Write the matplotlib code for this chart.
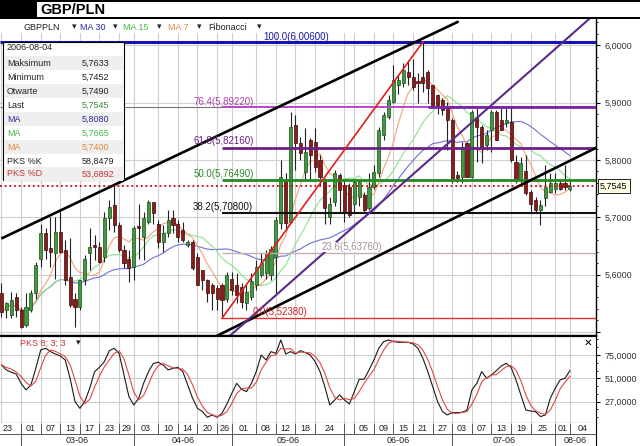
import numpy as np
import pandas as pd
import matplotlib
matplotlib.use("Agg")
import matplotlib.pyplot as plt
from matplotlib.patches import Rectangle

plt.rcParams['font.family'] = ['Liberation Sans', 'DejaVu Sans']

# ---------------- data ----------------
days = pd.bdate_range("2006-02-23", "2006-08-04")

opens = [5.567, 5.538, 5.529, 5.561, 5.538, 5.512, 5.538, 5.567, 5.628, 5.672,
         5.646, 5.637, 5.675, 5.643, 5.596, 5.558, 5.544, 5.590, 5.637, 5.651,
         5.649, 5.631, 5.698, 5.721, 5.686, 5.643, 5.628, 5.614, 5.684, 5.666,
         5.692, 5.727, 5.689, 5.657, 5.672, 5.698, 5.689, 5.678, 5.652, 5.657,
         5.631, 5.608, 5.590, 5.582, 5.576, 5.582, 5.558, 5.593, 5.582, 5.579,
         5.550, 5.561, 5.582, 5.599, 5.602, 5.600, 5.631, 5.690, 5.765, 5.692,
         5.861, 5.829, 5.779, 5.835, 5.832, 5.800, 5.762, 5.701, 5.727, 5.774,
         5.756, 5.753, 5.724, 5.736, 5.739, 5.716, 5.753, 5.777, 5.843, 5.875,
         5.902, 5.931, 5.934, 5.954, 5.945, 5.938, 5.945, 5.954, 5.931, 5.913,
         5.905, 5.890, 5.870, 5.774, 5.771, 5.829, 5.771, 5.873, 5.858, 5.826,
         5.852, 5.884, 5.870, 5.864, 5.867, 5.797, 5.765, 5.780, 5.745, 5.730,
         5.713, 5.733, 5.745, 5.750, 5.759, 5.759, 5.749]
highs = [5.585, 5.553, 5.570, 5.567, 5.544, 5.567, 5.573, 5.622, 5.689, 5.681,
         5.701, 5.701, 5.713, 5.660, 5.663, 5.567, 5.590, 5.634, 5.681, 5.669,
         5.657, 5.710, 5.730, 5.756, 5.692, 5.651, 5.643, 5.684, 5.724, 5.710,
         5.730, 5.727, 5.695, 5.686, 5.713, 5.713, 5.695, 5.692, 5.660, 5.660,
         5.637, 5.608, 5.593, 5.585, 5.582, 5.585, 5.605, 5.605, 5.602, 5.585,
         5.582, 5.602, 5.625, 5.637, 5.643, 5.650, 5.701, 5.800, 5.777, 5.884,
         5.878, 5.841, 5.855, 5.838, 5.855, 5.809, 5.768, 5.736, 5.782, 5.777,
         5.765, 5.759, 5.765, 5.765, 5.745, 5.777, 5.791, 5.858, 5.884, 5.913,
         5.966, 5.950, 5.969, 5.974, 5.977, 5.951, 6.006, 5.957, 5.931, 5.916,
         5.908, 5.902, 5.873, 5.780, 5.832, 5.832, 5.887, 5.890, 5.861, 5.852,
         5.887, 5.887, 5.890, 5.890, 5.890, 5.809, 5.806, 5.809, 5.748, 5.736,
         5.730, 5.791, 5.777, 5.777, 5.765, 5.791, 5.7633]
lows = [5.526, 5.524, 5.524, 5.526, 5.506, 5.509, 5.535, 5.558, 5.614, 5.628,
        5.614, 5.593, 5.637, 5.582, 5.544, 5.509, 5.538, 5.582, 5.608, 5.625,
        5.620, 5.622, 5.678, 5.675, 5.640, 5.611, 5.587, 5.590, 5.628, 5.625,
        5.689, 5.689, 5.646, 5.640, 5.666, 5.672, 5.657, 5.657, 5.649, 5.608,
        5.582, 5.573, 5.553, 5.538, 5.538, 5.524, 5.553, 5.564, 5.550, 5.541,
        5.538, 5.556, 5.573, 5.596, 5.593, 5.590, 5.567, 5.680, 5.678, 5.690,
        5.782, 5.800, 5.765, 5.765, 5.779, 5.756, 5.689, 5.689, 5.719, 5.707,
        5.692, 5.701, 5.707, 5.719, 5.710, 5.713, 5.750, 5.771, 5.835, 5.872,
        5.899, 5.915, 5.928, 5.931, 5.922, 5.899, 5.919, 5.899, 5.890, 5.881,
        5.878, 5.817, 5.759, 5.762, 5.759, 5.771, 5.768, 5.797, 5.794, 5.817,
        5.814, 5.835, 5.852, 5.858, 5.797, 5.759, 5.759, 5.739, 5.707, 5.707,
        5.686, 5.719, 5.742, 5.742, 5.748, 5.748, 5.7452]
closes = [5.535, 5.550, 5.556, 5.538, 5.509, 5.544, 5.567, 5.617, 5.672, 5.643,
          5.640, 5.675, 5.640, 5.590, 5.547, 5.544, 5.590, 5.628, 5.649, 5.649,
          5.622, 5.698, 5.718, 5.686, 5.643, 5.620, 5.611, 5.681, 5.681, 5.698,
          5.727, 5.707, 5.657, 5.672, 5.695, 5.686, 5.666, 5.660, 5.657, 5.611,
          5.582, 5.590, 5.567, 5.567, 5.558, 5.556, 5.599, 5.573, 5.564, 5.553,
          5.570, 5.588, 5.614, 5.620, 5.637, 5.645, 5.695, 5.771, 5.690, 5.858,
          5.829, 5.812, 5.814, 5.809, 5.788, 5.771, 5.716, 5.724, 5.777, 5.748,
          5.710, 5.704, 5.762, 5.762, 5.713, 5.753, 5.779, 5.852, 5.878, 5.905,
          5.940, 5.940, 5.957, 5.945, 5.928, 5.934, 5.935, 5.925, 5.893, 5.896,
          5.887, 5.870, 5.765, 5.768, 5.823, 5.771, 5.884, 5.858, 5.823, 5.843,
          5.884, 5.835, 5.852, 5.870, 5.800, 5.765, 5.794, 5.742, 5.724, 5.713,
          5.721, 5.753, 5.759, 5.759, 5.750, 5.753, 5.7545]

# PKS %K (slow stochastic 8;3;3)
pks_k = [64.7, 59.6, 57.2, 55.4, 45.8, 39.0, 44.1, 61.3, 80.2, 81.9,
         78.5, 76.0, 74.0, 69.9, 51.0, 27.0, 20.0, 27.0, 40.7, 57.9,
         62.3, 68.2, 79.5, 81.9, 76.7, 54.4, 32.1, 23.5, 30.4, 45.8,
         57.9, 66.4, 67.5, 64.7, 59.6, 61.3, 62.3, 57.9, 44.1, 30.4,
         20.0, 16.6, 10.8, 13.2, 10.8, 14.9, 24.5, 35.5, 45.8, 39.6,
         37.2, 45.8, 57.9, 75.0, 69.9, 78.5, 76.7, 90.5, 76.0, 78.5,
         76.0, 79.5, 77.4, 75.0, 68.2, 58.0, 42.0, 23.5, 28.6, 33.8,
         28.6, 24.5, 37.2, 50.0, 50.0, 59.6, 69.9, 81.9, 88.8, 90.5,
         88.8, 88.1, 88.1, 88.1, 86.4, 81.9, 71.6, 57.9, 42.4, 27.0,
         16.6, 13.2, 15.6, 15.6, 15.9, 18.3, 39.0, 45.8, 57.9, 51.0,
         54.4, 58.9, 63.7, 66.4, 62.3, 49.3, 33.8, 18.3, 17.3, 16.6,
         11.5, 13.2, 30.4, 40.7, 49.3, 51.0, 58.85]

grid_dates = ["2006-02-23", "2006-03-01", "2006-03-07", "2006-03-13", "2006-03-17",
              "2006-03-23", "2006-03-29", "2006-04-03", "2006-04-10", "2006-04-14",
              "2006-04-20", "2006-04-26", "2006-05-01", "2006-05-08", "2006-05-12",
              "2006-05-18", "2006-05-24", "2006-06-01", "2006-06-05", "2006-06-09",
              "2006-06-15", "2006-06-21", "2006-06-27", "2006-07-03", "2006-07-07",
              "2006-07-13", "2006-07-19", "2006-07-25", "2006-08-01", "2006-08-04"]
day_labels = ["23", "01", "07", "13", "17", "23", "29", "03", "10", "14", "20", "26",
              "01", "08", "12", "18", "24", "", "05", "09", "15", "21", "27",
              "03", "07", "13", "19", "25", "01", "04"]
month_dates = ["2006-03-01", "2006-04-03", "2006-05-01", "2006-06-01", "2006-07-03", "2006-08-01"]
month_labels = ["03-06", "04-06", "05-06", "06-06", "07-06", "08-06"]

price_ticks = [5.5, 5.6, 5.7, 5.8, 5.9, 6.0]
pks_ticks = [27, 51, 75]

fib_levels = [6.0060, 5.8922, 5.8216, 5.7649, 5.7080, 5.6376, 5.5238]
fib_names = ["100.0(6,00600)", "76.4(5,89220)", "61.8(5,82160)", "50.0(5,76490)",
             "38.2(5,70800)", "23.6(5,63760)", "0.0(5,52380)"]
last_price = 5.7545

info_rows = [("2006-08-04", ""), ("Maksimum", "5,7633"), ("Minimum", "5,7452"),
             ("Otwarte", "5,7490"), ("Last", "5,7545"), ("MA", "5,8080"),
             ("MA", "5,7665"), ("MA", "5,7400"), ("PKS %K", "58,8479"),
             ("PKS %D", "53,6892")]

# ---------------- layout helpers (pixels) ----------------
W, H = 640, 446
def box(l, t, r, b):
    return [l / W, 1 - b / H, (r - l) / W, (b - t) / H]
def fx(px):
    return px / W
def fy(py):
    return 1 - py / H

n = len(closes)
x = np.arange(n)
o, hi, lo, c = map(np.array, (opens, highs, lows, closes))
grid_idx = [days.get_loc(pd.Timestamp(d)) for d in grid_dates]
month_idx = [days.get_loc(pd.Timestamp(d)) for d in month_dates]
xl = (-1.5 / 4.9, (596 - 1.5) / 4.9)

fig = plt.figure(figsize=(6.4, 4.46), dpi=100)
ax = fig.add_axes(box(0, 19, 596, 336))
axs = fig.add_axes(box(0, 336, 596, 423))
axd = fig.add_axes(box(0, 423, 596, 446))

num = lambda v, d=4: f"{v:.{d}f}".replace(".", ",")

# ---------------- price panel ----------------
ax.set_xlim(*xl)
ax.set_ylim(5.4928, 6.0461)
ax.set_axisbelow(True)
ax.set_xticks(grid_idx)
ax.tick_params(axis="x", length=0, labelbottom=False)
ax.yaxis.tick_right()
ax.set_yticks(price_ticks)
ax.set_yticks(np.arange(5.50, 6.05, 0.02), minor=True)
ax.set_yticklabels(["" if v < 5.55 else num(v) for v in price_ticks])
ax.tick_params(axis="y", which="major", length=3, labelsize=6.5, labelcolor="#333333", pad=3)
ax.tick_params(axis="y", which="minor", length=1.5)
ax.grid(True, color="#cfcfcf", lw=0.8)
for s in ("left", "top"):
    ax.spines[s].set_visible(False)
ax.spines["right"].set_linewidth(1)
ax.spines["bottom"].set_linewidth(1.6)
# toolbar strip hides the grid
ax.add_patch(Rectangle((0, (336 - 33) / 317), 1, 14 / 317, transform=ax.transAxes,
                       fc="white", ec="none", zorder=1))

# moving averages
cs = pd.Series(closes)
ax.plot(x, cs.rolling(30, min_periods=1).mean(), color="#7070d8", lw=0.8, zorder=2.2)
ax.plot(x, cs.rolling(15, min_periods=1).mean(), color="#8fe08f", lw=0.8, zorder=2.2)
ax.plot(x, cs.rolling(7, min_periods=1).mean(), color="#f2a47a", lw=0.8, zorder=2.2)

# candles
up = c >= o
bot = np.minimum(o, c)
hgt = np.maximum(np.abs(c - o), 0.0015)
ax.vlines(x, lo, hi, color="#222222", lw=0.8, zorder=2.4)
ax.bar(x[up], hgt[up], bottom=bot[up], width=0.62, color="#3d9b3d",
       edgecolor="#1c4d1c", lw=0.5, zorder=2.5)
ax.bar(x[~up], hgt[~up], bottom=bot[~up], width=0.62, color="#8c1c1c",
       edgecolor="#3a0a0a", lw=0.5, zorder=2.5)

# fibonacci levels
ax.hlines(fib_levels[0], xl[0], xl[1], color="#1414b4", lw=2.2, zorder=2.8)
ax.hlines(fib_levels[1], xl[0], 45, color="#777777", lw=0.8, zorder=2.8)
ax.hlines(fib_levels[1], 45, xl[1], color="#b848c8", lw=1.4, zorder=2.8)
ax.hlines(fib_levels[1], 87, xl[1], color="#7a22a8", lw=2.0, zorder=2.8)
ax.hlines(fib_levels[2], 45, xl[1], color="#6e1f8a", lw=2.0, zorder=2.8)
ax.hlines(fib_levels[3], 45, xl[1], color="#218a21", lw=2.0, zorder=2.8)
ax.hlines(fib_levels[4], 45, xl[1], color="#111111", lw=1.5, zorder=2.8)
ax.hlines(fib_levels[5], 45, xl[1], color="#c4aeae", lw=1.0, zorder=2.8)
ax.hlines(fib_levels[6], 45, xl[1], color="#e03030", lw=1.0, zorder=2.8)

fib_pos = [(53.4, 6.0147), (39.1, 5.9010), (39.1, 5.8331), (39.1, 5.7756),
           (39.1, 5.7180), (65.4, 5.6481), (51.3, 5.5349)]
fib_col = ["#1a1a9a", "#b040b0", "#6a2080", "#2a8a2a", "#111111", "#a09090", "#cc2222"]
for (px_, py_), name, col in zip(fib_pos, fib_names, fib_col):
    kw = {}
    if name.startswith("23.6"):
        kw["bbox"] = dict(fc="white", ec="none", pad=0.3)
    ax.text(px_, py_, name, color=col, fontsize=7, va="center", ha="left", zorder=4, **kw)

# trend lines
ax.plot([0.2, 93.05], [5.6639, 6.0408], color="black", lw=1.9, zorder=3)
ax.plot([35.0, 121.5], [5.4550, 5.8220], color="black", lw=1.9, zorder=3)
ax.plot([45, 86], [5.5238, 6.0060], color="#e02020", lw=1.2, zorder=3)
ax.plot([44.0, 121.5], [5.4735, 6.0580], color="#5a2a8a", lw=1.5, zorder=3)

# last price
ax.axhline(last_price, color="#cc0000", lw=1.3, ls=(0, (1, 1.6)), zorder=3.2)
fig.text(fx(600), fy(186), num(last_price), fontsize=6.5, va="center", ha="left",
         bbox=dict(boxstyle="square,pad=0.25", fc="#ffffe6", ec="black", lw=0.6))

# ---------------- stochastic panel ----------------
pks_d = pd.Series(pks_k).rolling(3, min_periods=1).mean()
axs.set_xlim(*xl)
axs.set_ylim(4.9, 94.6)
axs.set_axisbelow(True)
axs.set_xticks(grid_idx)
axs.tick_params(axis="x", length=0, labelbottom=False)
axs.yaxis.tick_right()
axs.set_yticks(pks_ticks)
axs.set_yticks([11, 19, 35, 43, 59, 67, 83, 91], minor=True)
axs.set_yticklabels([num(v) for v in pks_ticks])
axs.tick_params(axis="y", which="major", length=3, labelsize=6.5, labelcolor="#333333", pad=3)
axs.tick_params(axis="y", which="minor", length=1.5)
axs.grid(True, color="#cfcfcf", lw=0.8)
axs.spines["left"].set_visible(False)
axs.spines["top"].set_linewidth(1.6)
axs.plot(x, pks_k, color="#1a1a1a", lw=0.8)
axs.plot(x, pks_d, color="#e04848", lw=0.8)
fig.text(fx(20), fy(343), "PKS 8; 3; 3", color="#cc3333", fontsize=6.5, va="center")
fig.text(fx(76), fy(343), "▾", color="#222222", fontsize=6.5, va="center")
fig.text(fx(588), fy(343), "✕", color="black", fontsize=7.5, va="center",
         ha="center", fontweight="bold")

# ---------------- date strip ----------------
axd.set_xlim(*xl)
axd.set_ylim(0, 1)
axd.set_xticks([])
axd.set_yticks([])
for s in ("left", "top", "bottom"):
    axd.spines[s].set_visible(False)
mid = 12 / 23
axd.axhline(mid, color="#555555", lw=0.7)
axd.vlines(grid_idx[1:], mid, 1, color="#555555", lw=0.7)
axd.vlines(month_idx, 0, mid, color="#555555", lw=0.7)
edges = grid_idx + [xl[1]]
for i, lab in enumerate(day_labels):
    axd.text((edges[i] + edges[i + 1]) / 2 if i else 1.2, 0.76, lab, fontsize=6.5,
             ha="center", va="center", color="#222222")
medges = month_idx + [xl[1]]
for i, lab in enumerate(month_labels):
    axd.text((medges[i] + medges[i + 1]) / 2, 0.24, lab, fontsize=6.5,
             ha="center", va="center", color="#222222")

# ---------------- title bar, toolbar, info box ----------------
fig.add_artist(Rectangle((0, fy(17)), fx(37), 17 / H, transform=fig.transFigure,
                         fc="black", ec="none"))
fig.add_artist(Rectangle((0, fy(1.5)), 1, 1.5 / H, transform=fig.transFigure,
                         fc="black", ec="none"))
fig.add_artist(Rectangle((0, fy(19)), 1, 2 / H, transform=fig.transFigure,
                         fc="black", ec="none"))
fig.text(fx(40), fy(9.5), "GBP/PLN", fontsize=10.5, fontweight="bold", va="center")

tools = [("GBPPLN", 24, 72, "#222222"), ("MA 30", 80, 113, "#2a2a9a"),
         ("MA 15", 123, 157, "#44bb44"), ("MA 7", 168, 197, "#e08a3c"),
         ("Fibonacci", 208, 257, "#222222")]
for lab, x0, x1, col in tools:
    fig.text(fx(x0), fy(27), lab, color=col, fontsize=6.5, va="center")
    fig.text(fx(x1), fy(27), "▾", color="#222222", fontsize=6.5, va="center")

fig.add_artist(Rectangle((fx(3), fy(180)), fx(121), 138 / H, transform=fig.transFigure,
                         fc="white", ec="black", lw=0.8, zorder=5))
row_y = [48, 63, 77, 91, 105, 119, 133, 147, 161, 174]
lab_col = ["#222222", "#222222", "#222222", "#222222", "#222222", "#2a2a9a",
           "#44bb44", "#e08a3c", "#222222", "#cc3333"]
val_col = ["#222222", "#222222", "#222222", "#222222", "#3a8a3a", "#2a2a9a",
           "#44bb44", "#e08a3c", "#222222", "#cc3333"]
for i, ((lab, val), yy) in enumerate(zip(info_rows, row_y)):
    if i % 2 == 1:
        fig.add_artist(Rectangle((fx(4), fy(yy + 7)), fx(119), 14 / H,
                                 transform=fig.transFigure, fc="#efefef", ec="none", zorder=5.5))
    fig.text(fx(7), fy(yy), lab, color=lab_col[i], fontsize=6.5, va="center", zorder=6)
    fig.text(fx(82), fy(yy), val, color=val_col[i], fontsize=6.5, va="center", zorder=6)

fig.savefig("out.png", dpi=100)
